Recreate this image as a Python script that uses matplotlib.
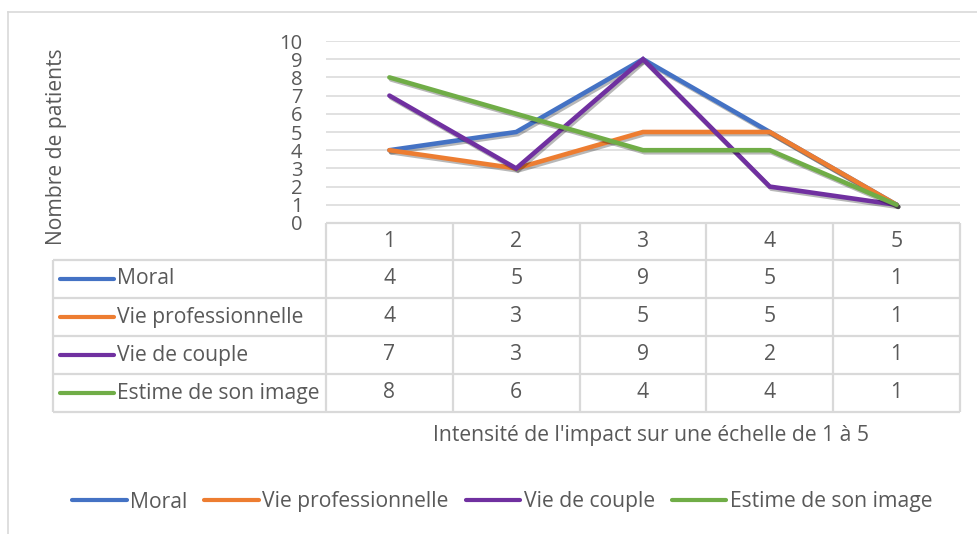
import matplotlib
matplotlib.use("Agg")
import matplotlib.pyplot as plt
import matplotlib.patheffects as pe
from matplotlib.lines import Line2D

# ---- data ----
categories = [1, 2, 3, 4, 5]
series_names = ["Moral", "Vie professionnelle", "Vie de couple", "Estime de son image"]
moral = [4, 5, 9, 5, 1]
vie_pro = [4, 3, 5, 5, 1]
vie_couple = [7, 3, 9, 2, 1]
estime = [8, 6, 4, 4, 1]
series_values = [moral, vie_pro, vie_couple, estime]
colors = ["#4472C4", "#ED7D31", "#7030A0", "#70AD47"]
y_ticks = list(range(0, 11))

ylabel = "Nombre de patients"
xlabel = "Intensité de l'impact sur une échelle de 1 à 5"

# ---- style ----
plt.rcParams["font.family"] = ["Open Sans", "DejaVu Sans"]
TXT = "#595959"
GRID = "#d9d9d9"
FS = 15.2
FS_TICK = 14.5

W, H = 978, 534
fig = plt.figure(figsize=(W / 100, H / 100), dpi=100)

# overlay in pixel coordinates for frame and data table
ov = fig.add_axes([0, 0, 1, 1])
ov.set_xlim(0, W)
ov.set_ylim(H, 0)
ov.axis("off")

# chart frame
ov.plot([7.5, 7.5], [12, H], color=GRID, lw=1.2)
ov.plot([7.5, W], [12, 12], color=GRID, lw=1.2)

# plot area (pixels)
px0, px1 = 326, 960
py_top, py_bot = 41, 223
ax = fig.add_axes([px0 / W, 1 - py_bot / H, (px1 - px0) / W, (py_bot - py_top) / H])
ax.set_xlim(0.5, 5.5)
ax.set_ylim(0, 10)
for s in ax.spines.values():
    s.set_visible(False)
ax.set_xticks([])
ax.set_yticks(y_ticks)
ax.set_yticklabels([str(t) for t in y_ticks], fontsize=FS_TICK, color=TXT)
ax.tick_params(axis="y", length=0, pad=17)
for t in y_ticks[1:]:
    ax.axhline(t, color=GRID, lw=1.1, zorder=1)
ax.patch.set_alpha(0)

shadow = [pe.SimpleLineShadow(offset=(1.2, -1.5), shadow_color="black", alpha=0.28),
          pe.Normal()]
for name, vals, c in zip(series_names, series_values, colors):
    ax.plot(categories, vals, color=c, lw=3.3, solid_joinstyle="miter",
            solid_capstyle="round", zorder=3, label=name, path_effects=shadow)

fig.text(57 / W, 1 - 147 / H, ylabel, rotation=90, fontsize=FS, color=TXT,
         ha="center", va="center")

# ---- data table ----
col_w = (px1 - px0) / len(categories)
col_edges = [px0 + i * col_w for i in range(len(categories) + 1)]
row_edges = [223, 260, 298, 336, 374, 412]
tx0 = 53
tl = dict(color=GRID, lw=1.6, solid_capstyle="butt")

ov.plot([px0, px1], [row_edges[0]] * 2, **tl)
for y in row_edges[1:]:
    ov.plot([tx0, px1], [y, y], **tl)
for x in col_edges:
    ov.plot([x, x], [row_edges[0], row_edges[-1]], **tl)
ov.plot([tx0, tx0], [row_edges[1], row_edges[-1]], **tl)

def cx(i):
    return (col_edges[i] + col_edges[i + 1]) / 2

hy = (row_edges[0] + row_edges[1]) / 2
for i, c in enumerate(categories):
    ov.text(cx(i), hy, str(c), ha="center", va="center", fontsize=FS, color=TXT)

for r, (name, vals, c) in enumerate(zip(series_names, series_values, colors)):
    ry = (row_edges[r + 1] + row_edges[r + 2]) / 2
    ov.plot([60, 114], [ry, ry], color=c, lw=3.0, solid_capstyle="round")
    ov.text(117, ry, name, ha="left", va="center", fontsize=FS, color=TXT)
    for i, v in enumerate(vals):
        ov.text(cx(i), ry, str(v), ha="center", va="center", fontsize=FS, color=TXT)

fig.text(651 / W, 1 - 435 / H, xlabel, ha="center", va="center", fontsize=FS, color=TXT)

# ---- legend ----
handles = [Line2D([], [], color=c, lw=3.0, solid_capstyle="round") for c in colors]
fig.legend(handles, series_names, loc="center", bbox_to_anchor=(502 / W, 1 - 502 / H),
           ncol=4, frameon=False, fontsize=FS, labelcolor=TXT,
           handlelength=2.6, handletextpad=0.15, columnspacing=0.8)

fig.savefig("out.png", dpi=100)
